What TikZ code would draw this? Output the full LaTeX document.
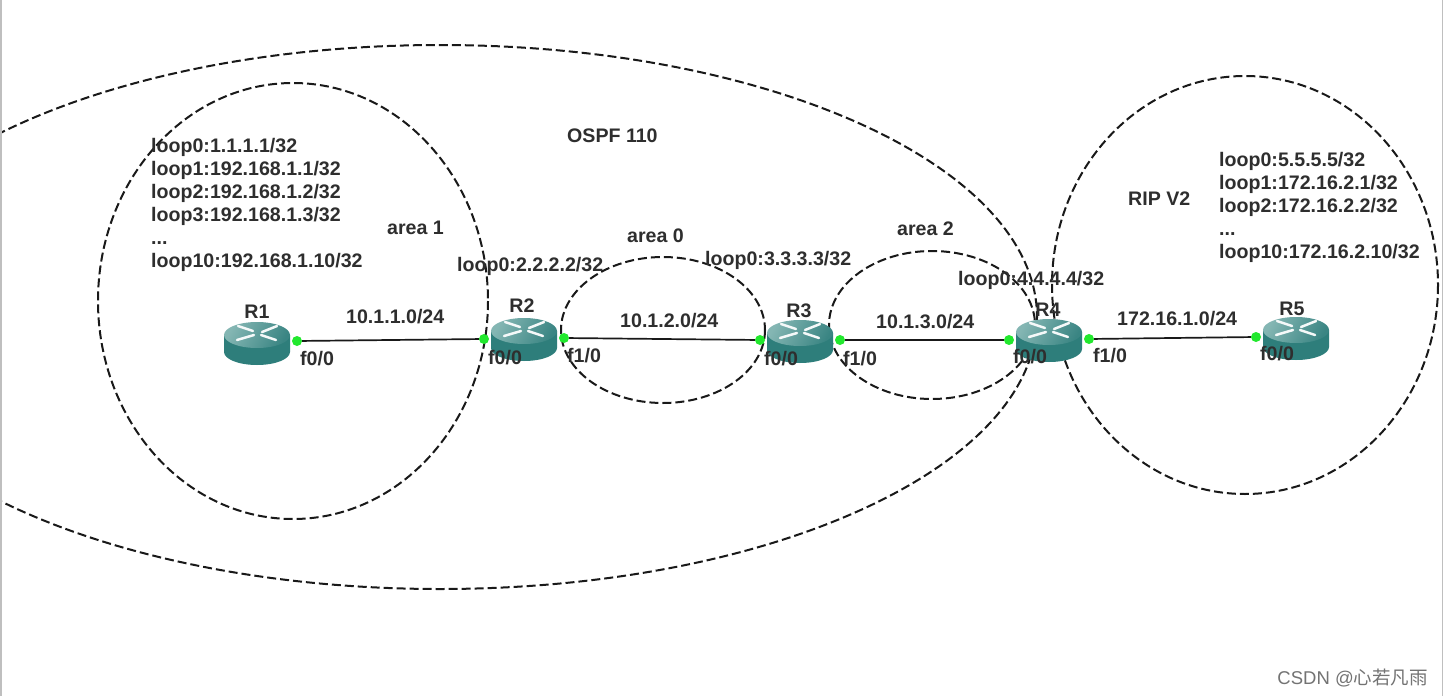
\documentclass[tikz,border=0pt]{standalone}
\usepackage{fontspec}
\setmainfont{Liberation Sans}
\newfontfamily\cjk{Noto Sans CJK SC}
\newfontfamily\wm{Liberation Sans}
\definecolor{rtop}{HTML}{84B6B3}
\definecolor{rside}{HTML}{2E7E7B}
\definecolor{rdark}{HTML}{3A8583}
\definecolor{dot}{HTML}{22E82E}
\tikzset{
  x=1pt,y=-1pt,
  zone/.style={draw=black!90,line width=2pt,dash pattern=on 9pt off 4pt},
  lbl/.style={inner sep=0pt,yshift=-1pt,font=\fontsize{19.6}{22}\selectfont\bfseries,text=black!82},
  port/.style={circle,fill=dot,inner sep=0pt,minimum size=10pt},
  link/.style={draw=black!90,line width=1.7pt},
  rbox/.style={inner sep=0pt,minimum width=66pt,minimum height=42pt},
  xarrow/.style={draw=white!92!rtop,line width=2.5pt,line cap=round}
}
\newcommand{\router}[3]{%
  \fill[rside] (#2-33,#3-8) -- (#2-33,#3+9) arc[x radius=33,y radius=13,start angle=180,end angle=0] -- (#2+33,#3-8) -- cycle;
  \shade[top color=rtop,bottom color=rdark,shading angle=60] (#2,#3-8) ellipse[x radius=33,y radius=13];
  \draw[xarrow] (#2-19,#3-17) -- (#2-4,#3-12);
  \draw[xarrow] (#2+20,#3-17) -- (#2+5,#3-11);
  \draw[xarrow] (#2-20,#3-3) -- (#2-3,#3-8);
  \draw[xarrow] (#2+19,#3-3) -- (#2+4,#3-8);
  \node[rbox] (#1) at (#2,#3) {};
}
\begin{document}
\begin{tikzpicture}
\useasboundingbox (0,0) rectangle (1443,696);
\fill[white] (0,0) rectangle (1443,696);
\fill[black!25] (0,0) rectangle (2,696);
\fill[black!25] (1441.5,0) rectangle (1443,696);
\begin{scope}
\clip (2,0) rectangle (1441,696);
\draw[zone] (440,317) ellipse[x radius=597,y radius=272];
\draw[zone] (293,301) ellipse[x radius=195,y radius=218];
\draw[zone] (663,330) ellipse[x radius=102,y radius=73];
\draw[zone] (932,325) ellipse[x radius=103,y radius=74];
\draw[zone] (1245,285) ellipse[x radius=193,y radius=209];
\end{scope}
\router{R1}{257}{343}
\router{R2}{524}{339}
\router{R3}{800}{341}
\router{R4}{1049}{340}
\router{R5}{1296}{338}
\node[port] (p1) at (297,341) {};
\node[port] (p2a) at (484,339) {};
\node[port] (p2b) at (564,338) {};
\node[port] (p3a) at (760,340) {};
\node[port] (p3b) at (840,340) {};
\node[port] (p4a) at (1009,340) {};
\node[port] (p4b) at (1089,339) {};
\node[port] (p5) at (1256,337) {};
\draw[link] (p1) -- (p2a);
\draw[link] (p2b) -- (p3a);
\draw[link] (p3b) -- (p4a);
\draw[link] (p4b) -- (p5);
\node[lbl,anchor=base] (n1) at (257,317) {R1};
\node[lbl,anchor=base] (n2) at (522,311) {R2};
\node[lbl,anchor=base] (n3) at (799,316) {R3};
\node[lbl,anchor=base] (n4) at (1048,315) {R4};
\node[lbl,anchor=base] (n5) at (1292,314) {R5};
\node[lbl,anchor=base west] (a) at (300,364) {f0/0};
\node[lbl,anchor=base west] (b) at (488,363) {f0/0};
\node[lbl,anchor=base west] (c) at (567,361) {f1/0};
\node[lbl,anchor=base west] (d) at (764,364) {f0/0};
\node[lbl,anchor=base west] (e) at (843,364) {f1/0};
\node[lbl,anchor=base west] (f) at (1013,362) {f0/0};
\node[lbl,anchor=base west] (g) at (1093,361) {f1/0};
\node[lbl,anchor=base west] (h) at (1260,359) {f0/0};
\node[lbl,anchor=base west] (s1) at (346,322) {10.1.1.0/24};
\node[lbl,anchor=base west] (s2) at (620,326) {10.1.2.0/24};
\node[lbl,anchor=base west] (s3) at (876,327) {10.1.3.0/24};
\node[lbl,anchor=base west] (s4) at (1117,324) {172.16.1.0/24};
\node[lbl,anchor=base west] (o) at (567,141) {OSPF 110};
\node[lbl,anchor=base west] (r) at (1128,204) {RIP V2};
\node[lbl,anchor=base west] (ar1) at (387,233) {area 1};
\node[lbl,anchor=base west] (ar0) at (627,241) {area 0};
\node[lbl,anchor=base west] (ar2) at (897,234) {area 2};
\node[lbl,anchor=base west] (l2) at (457,270) {loop0:2.2.2.2/32};
\node[lbl,anchor=base west] (l3) at (705,264) {loop0:3.3.3.3/32};
\node[lbl,anchor=base west] (l4) at (958,284) {loop0:4.4.4.4/32};
\node[lbl,anchor=base west] (t1) at (151,151) {loop0:1.1.1.1/32};
\node[lbl,anchor=base west] (t2) at (151,174) {loop1:192.168.1.1/32};
\node[lbl,anchor=base west] (t3) at (151,197) {loop2:192.168.1.2/32};
\node[lbl,anchor=base west] (t4) at (151,220) {loop3:192.168.1.3/32};
\node[lbl,anchor=base west] (t5) at (151,243) {...};
\node[lbl,anchor=base west] (t6) at (151,266) {loop10:192.168.1.10/32};
\node[lbl,anchor=base west] (u1) at (1219,165) {loop0:5.5.5.5/32};
\node[lbl,anchor=base west] (u2) at (1219,188) {loop1:172.16.2.1/32};
\node[lbl,anchor=base west] (u3) at (1219,211) {loop2:172.16.2.2/32};
\node[lbl,anchor=base west] (u4) at (1219,234) {...};
\node[lbl,anchor=base west] (u5) at (1219,257) {loop10:172.16.2.10/32};
\node[inner sep=0pt,anchor=base east,text=black!55,font=\fontsize{18.5}{20}\selectfont] (w) at (1428,684) {\wm CSDN @\cjk 心若凡雨};
\end{tikzpicture}
\end{document}
